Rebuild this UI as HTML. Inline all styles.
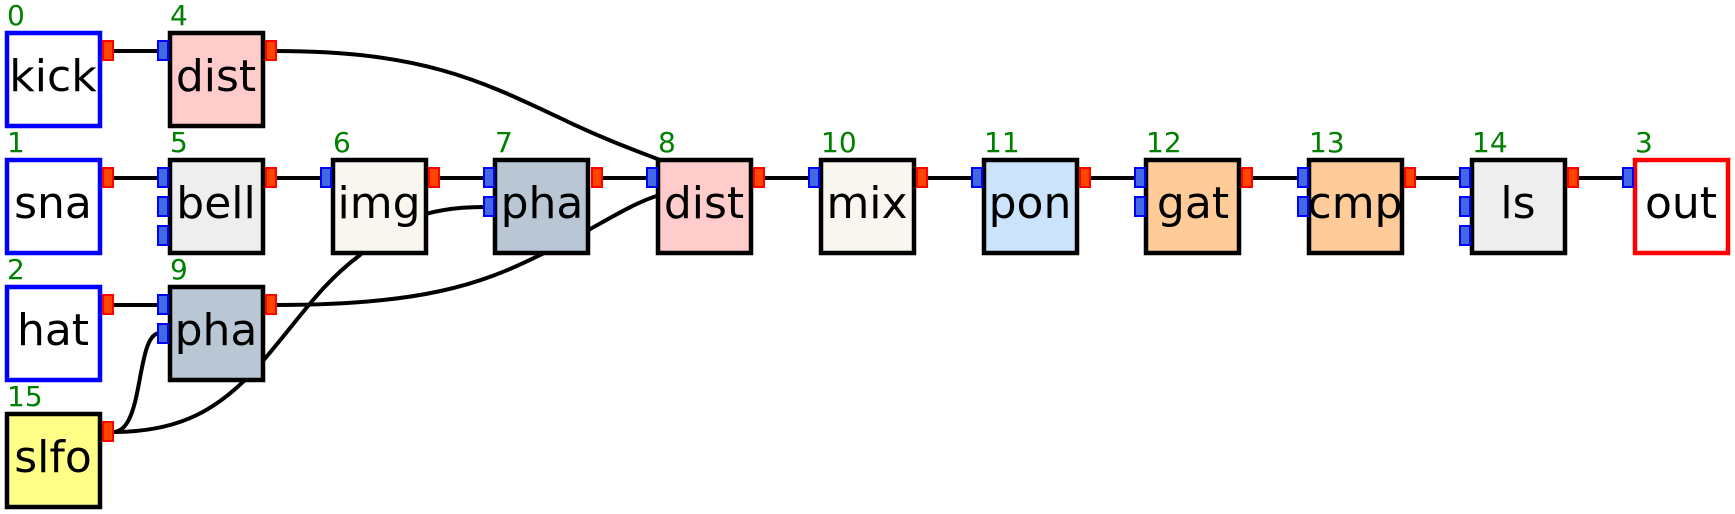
<!DOCTYPE html>
<html><head><meta charset="utf-8"><style>
html,body{margin:0;padding:0;background:#fff;}
svg{display:block;font-family:"DejaVu Sans","Liberation Sans",sans-serif;}
.n{font-size:28px;fill:#008000;}
.t{font-size:44px;fill:#000;text-anchor:middle;}
.b{stroke:#000;stroke-width:4.5;}
.ip{fill:#4169e1;stroke:#0000ff;stroke-width:2;}
.op{fill:#ff4500;stroke:#ff0000;stroke-width:2;}
.e{fill:none;stroke:#000;stroke-width:4;}
</style></head><body>
<svg width="1735" height="514" viewBox="0 0 1735 514" xmlns="http://www.w3.org/2000/svg">
<!-- edges -->
<path class="e" d="M113 51 H158"/>
<path class="e" d="M113 178 H158"/>
<path class="e" d="M113 305 H158"/>
<path class="e" d="M276 51 C420 51 480 80 560 118 C610 142 640 152 660 160"/>
<path class="e" d="M276 178 H321"/>
<path class="e" d="M439 178 H484"/>
<path class="e" d="M602 178 H647"/>
<path class="e" d="M764 178 H809"/>
<path class="e" d="M927 178 H972"/>
<path class="e" d="M1090 178 H1135"/>
<path class="e" d="M1252 178 H1298"/>
<path class="e" d="M1415 178 H1460"/>
<path class="e" d="M1578 178 H1623"/>
<path class="e" d="M113 432 C180 432 220 410 262 362 C300 318 320 285 360 255 C390 225 420 207 484 207"/>
<path class="e" d="M113 432 C145 432 135 333 160 333"/>
<path class="e" d="M276 305 C420 305 480 285 540 255 C590 232 630 203 660 195"/>
<!-- nodes -->
<g>
<rect x="7" y="33" width="93" height="93" fill="#fff" stroke="#0000ff" stroke-width="4.5"/>
<rect class="op" x="103" y="41" width="10" height="19"/>
<text class="n" x="7" y="25">0</text><text class="t" x="53" y="91">kick</text>
</g>
<g>
<rect x="7" y="160" width="93" height="93" fill="#fff" stroke="#0000ff" stroke-width="4.5"/>
<rect class="op" x="103" y="168" width="10" height="19"/>
<text class="n" x="7" y="152">1</text><text class="t" x="53" y="218">sna</text>
</g>
<g>
<rect x="7" y="287" width="93" height="93" fill="#fff" stroke="#0000ff" stroke-width="4.5"/>
<rect class="op" x="103" y="295" width="10" height="19"/>
<text class="n" x="7" y="279">2</text><text class="t" x="53" y="345">hat</text>
</g>
<g>
<rect class="b" x="7" y="414" width="93" height="93" fill="#ffff88"/>
<rect class="op" x="103" y="422" width="10" height="19"/>
<text class="n" x="7" y="406">15</text><text class="t" x="53" y="472">slfo</text>
</g>
<!-- col1 -->
<g>
<rect class="b" x="170" y="33" width="93" height="93" fill="#ffcccc"/>
<rect class="ip" x="158" y="41" width="10" height="19"/>
<rect class="op" x="266" y="41" width="10" height="19"/>
<text class="n" x="170" y="25">4</text><text class="t" x="216" y="91">dist</text>
</g>
<g>
<rect class="b" x="170" y="160" width="93" height="93" fill="#eeeeee"/>
<rect class="ip" x="158" y="168" width="10" height="19"/>
<rect class="ip" x="158" y="197" width="10" height="19"/>
<rect class="ip" x="158" y="226" width="10" height="19"/>
<rect class="op" x="266" y="168" width="10" height="19"/>
<text class="n" x="170" y="152">5</text><text class="t" x="216" y="218">bell</text>
</g>
<g>
<rect class="b" x="170" y="287" width="93" height="93" fill="#b8c7d3"/>
<rect class="ip" x="158" y="295" width="10" height="19"/>
<rect class="ip" x="158" y="324" width="10" height="19"/>
<rect class="op" x="266" y="295" width="10" height="19"/>
<text class="n" x="170" y="279">9</text><text class="t" x="216" y="345">pha</text>
</g>
<!-- row1 chain -->
<g>
<rect class="b" x="333" y="160" width="93" height="93" fill="#f8f6ee"/>
<rect class="ip" x="321" y="168" width="10" height="19"/>
<rect class="op" x="429" y="168" width="10" height="19"/>
<text class="n" x="333" y="152">6</text><text class="t" x="379" y="218">img</text>
</g>
<g>
<rect class="b" x="495" y="160" width="93" height="93" fill="#b8c7d3"/>
<rect class="ip" x="484" y="168" width="10" height="19"/>
<rect class="ip" x="484" y="197" width="10" height="19"/>
<rect class="op" x="592" y="168" width="10" height="19"/>
<text class="n" x="495" y="152">7</text><text class="t" x="542" y="218">pha</text>
</g>
<g>
<rect class="b" x="658" y="160" width="93" height="93" fill="#ffcccc"/>
<rect class="ip" x="647" y="168" width="10" height="19"/>
<rect class="op" x="754" y="168" width="10" height="19"/>
<text class="n" x="658" y="152">8</text><text class="t" x="704" y="218">dist</text>
</g>
<g>
<rect class="b" x="821" y="160" width="93" height="93" fill="#f8f6ee"/>
<rect class="ip" x="809" y="168" width="10" height="19"/>
<rect class="op" x="917" y="168" width="10" height="19"/>
<text class="n" x="821" y="152">10</text><text class="t" x="867" y="218">mix</text>
</g>
<g>
<rect class="b" x="984" y="160" width="93" height="93" fill="#cce4fb"/>
<rect class="ip" x="972" y="168" width="10" height="19"/>
<rect class="op" x="1080" y="168" width="10" height="19"/>
<text class="n" x="984" y="152">11</text><text class="t" x="1030" y="218">pon</text>
</g>
<g>
<rect class="b" x="1146" y="160" width="93" height="93" fill="#ffcc99"/>
<rect class="ip" x="1135" y="168" width="10" height="19"/>
<rect class="ip" x="1135" y="197" width="10" height="19"/>
<rect class="op" x="1242" y="168" width="10" height="19"/>
<text class="n" x="1146" y="152">12</text><text class="t" x="1193" y="218">gat</text>
</g>
<g>
<rect class="b" x="1309" y="160" width="93" height="93" fill="#ffcc99"/>
<rect class="ip" x="1298" y="168" width="10" height="19"/>
<rect class="ip" x="1298" y="197" width="10" height="19"/>
<rect class="op" x="1405" y="168" width="10" height="19"/>
<text class="n" x="1309" y="152">13</text><text class="t" x="1355" y="218">cmp</text>
</g>
<g>
<rect class="b" x="1472" y="160" width="93" height="93" fill="#eeeeee"/>
<rect class="ip" x="1460" y="168" width="10" height="19"/>
<rect class="ip" x="1460" y="197" width="10" height="19"/>
<rect class="ip" x="1460" y="226" width="10" height="19"/>
<rect class="op" x="1568" y="168" width="10" height="19"/>
<text class="n" x="1472" y="152">14</text><text class="t" x="1518" y="218">ls</text>
</g>
<g>
<rect x="1635" y="160" width="93" height="93" fill="#fff" stroke="#ff0000" stroke-width="4.5"/>
<rect class="ip" x="1623" y="168" width="10" height="19"/>
<text class="n" x="1635" y="152">3</text><text class="t" x="1681" y="218">out</text>
</g>
</svg>
</body></html>
